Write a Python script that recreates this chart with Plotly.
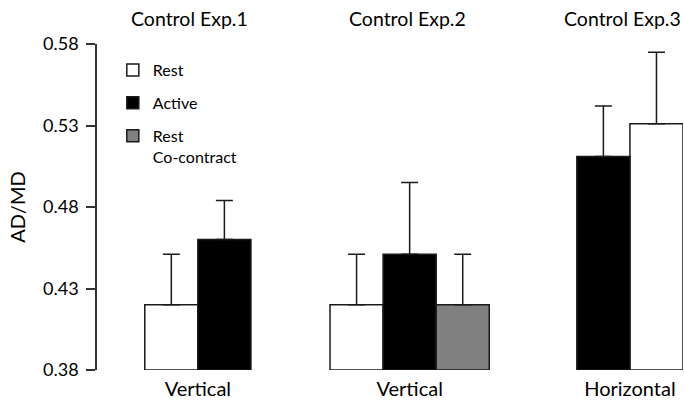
import plotly.graph_objects as go

# Experiments, the posture of each, and mean AD/MD ratio (+ SD) per condition
experiments = ["Control Exp.1", "Control Exp.2", "Control Exp.3"]
postures = ["Vertical", "Vertical", "Horizontal"]

rest_mean = [0.420, 0.420, 0.531]
rest_sd = [0.031, 0.031, 0.044]

active_mean = [0.460, 0.451, 0.511]
active_sd = [0.024, 0.044, 0.031]

cocontract_mean = [None, 0.420, None]
cocontract_sd = [None, 0.031, None]

y_ticks = [0.38, 0.43, 0.48, 0.53, 0.58]

# Bar order inside each experiment and where each experiment sits (bar-width units)
bar_order = [["rest", "active"], ["rest", "active", "cocontract"], ["active", "rest"]]
group_center = [1.9, 5.89, 10.04]
title_shift = [-8, -2, -7]  # px nudges for the experiment headings


def slot(cond, g):
    order = bar_order[g]
    if cond not in order:
        return None
    return group_center[g] + order.index(cond) - (len(order) - 1) / 2


FONT = "Lato"
INK = "#1a1a1a"

conditions = [
    ("rest", "Rest", rest_mean, rest_sd, "white"),
    ("active", "Active", active_mean, active_sd, "black"),
    ("cocontract", "Rest<br>Co-contract", cocontract_mean, cocontract_sd, "#808080"),
]

fig = go.Figure()
for key, name, means, sds, fill in conditions:
    xs, hs, es = [], [], []
    for g in range(len(experiments)):
        if means[g] is None:
            continue
        xs.append(slot(key, g))
        # bars rise from the bottom of the axis
        hs.append(means[g] - y_ticks[0])
        es.append(sds[g])
    fig.add_trace(go.Bar(
        x=xs, y=hs, base=y_ticks[0], name=name, width=1.0,
        marker=dict(color=fill, line=dict(color=INK, width=1.5)),
        error_y=dict(type="data", array=es, arrayminus=[0] * len(es), symmetric=False,
                     color=INK, thickness=1.5, width=8.5),
        legendgroup=key,
    ))

for g, title in enumerate(experiments):
    fig.add_annotation(x=group_center[g], y=1, xref="x", yref="paper",
                       yanchor="middle", yshift=26, xshift=title_shift[g],
                       text=title, showarrow=False,
                       font=dict(family=FONT, size=19.5, color="black"))

fig.update_layout(
    width=684, height=400,
    margin=dict(l=97, r=1, t=44, b=30, autoexpand=False),
    paper_bgcolor="white", plot_bgcolor="white",
    barmode="overlay",
    showlegend=True,
    legend=dict(x=0.027, y=0.972, xanchor="left", yanchor="top",
                font=dict(family=FONT, size=16, color="black"),
                traceorder="grouped", tracegroupgap=9, valign="top",
                itemwidth=30, bgcolor="rgba(0,0,0,0)"),
    font=dict(family=FONT, color="black"),
)

fig.update_xaxes(range=[0, 11.04], showgrid=False, zeroline=False, showline=False,
                 automargin=False,
                 tickmode="array", tickvals=group_center, ticktext=postures,
                 ticks="", ticklabelstandoff=5,
                 tickfont=dict(family=FONT, size=20, color="black"))

fig.update_yaxes(range=[y_ticks[0], y_ticks[-1]], showgrid=False, zeroline=False,
                 showline=True, linecolor="#333333", linewidth=1.5,
                 automargin=False,
                 tickmode="array", tickvals=y_ticks,
                 ticktext=[f"{v:.2f}" for v in y_ticks],
                 ticks="outside", ticklen=9, tickwidth=1.5, tickcolor="#333333",
                 ticklabelstandoff=4,
                 tickfont=dict(family=FONT, size=18, color="black"),
                 title=dict(text="AD/MD", font=dict(family=FONT, size=20, color="black"),
                            standoff=12))

fig.write_html("out.html")
